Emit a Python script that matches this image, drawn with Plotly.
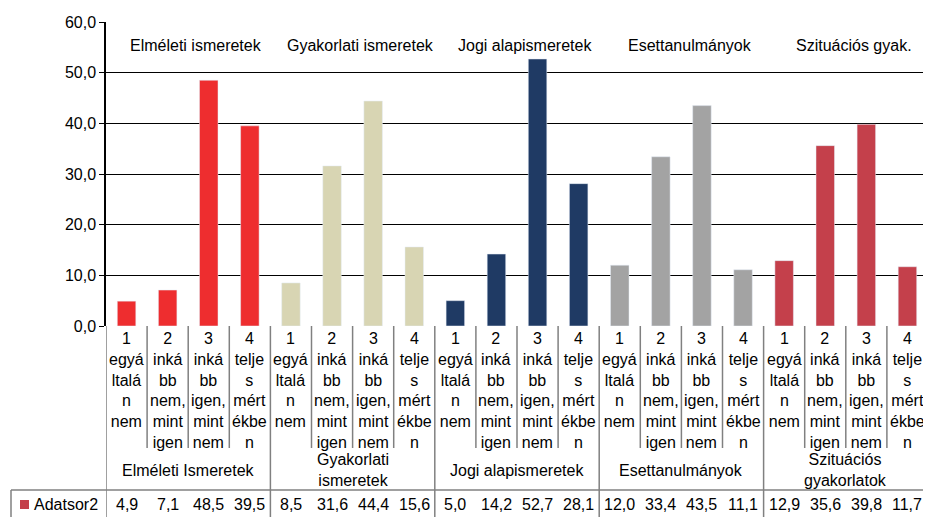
import plotly.graph_objects as go

groups = ["Elméleti Ismeretek", "Gyakorlati<br>ismeretek", "Jogi alapismeretek",
          "Esettanulmányok", "Szituációs<br>gyakorlatok"]
headers = ["Elméleti ismeretek", "Gyakorlati ismeretek", "Jogi alapismeretek",
           "Esettanulmányok", "Szituációs gyak."]
sub_labels = ["1<br>egyá<br>ltalá<br>n<br>nem", "2<br>inká<br>bb<br>nem,<br>mint<br>igen",
              "3<br>inká<br>bb<br>igen,<br>mint<br>nem", "4<br>telje<br>s<br>mért<br>ékbe<br>n"]
values = [4.9, 7.1, 48.5, 39.5, 8.5, 31.6, 44.4, 15.6, 5.0, 14.2, 52.7, 28.1,
          12.0, 33.4, 43.5, 11.1, 12.9, 35.6, 39.8, 11.7]
group_colors = ["#EE2D2F", "#D8D5B3", "#1F3A64", "#A3A3A3", "#C4404B"]
series_name = "Adatsor2"

W, H = 931, 517
L, R, T, B = 98, 11, 14, 199
pw, ph = W - L - R, H - T - B

def py(p):  # pixel y -> paper y
    return (H - B - p) / ph

def px_(p):
    return (p - L) / pw

xs = list(range(len(values)))
colors = [group_colors[i // 4] for i in xs]
font = "Liberation Sans, Arial, sans-serif"
fs = 16

fig = go.Figure(go.Bar(x=xs, y=values, marker_color=colors, width=0.45))

ann, shp = [], []
line = dict(color="#808080", width=1.5)
for i, v in enumerate(values):
    ann.append(dict(x=i, y=py(320), xref="x", yref="paper", text=sub_labels[i % 4],
                    showarrow=False, yanchor="top", font=dict(size=fs, color="black")))
    ann.append(dict(x=i, y=py(497), xref="x", yref="paper", text=f"{v:.1f}".replace(".", ","),
                    showarrow=False, yanchor="middle", font=dict(size=fs, color="black")))
    if i % 4 != 0:
        shp.append(dict(type="line", xref="x", yref="paper", x0=i - 0.5, x1=i - 0.5,
                        y0=py(318), y1=py(440), line=line))
for g in range(5):
    ann.append(dict(x=g * 4 + 1.5, y=py(462), xref="x", yref="paper", text=groups[g],
                    showarrow=False, yanchor="middle", font=dict(size=fs, color="black")))
    ann.append(dict(x=g * 4 + 1.7, y=py(37), xref="x", yref="paper", text=headers[g],
                    showarrow=False, yanchor="middle", font=dict(size=fs, color="black")))
for b in range(6):
    shp.append(dict(type="line", xref="x", yref="paper", x0=b * 4 - 0.5, x1=b * 4 - 0.5,
                    y0=py(318), y1=py(510), line=line))
for p in (482, 510):
    shp.append(dict(type="line", xref="paper", yref="paper", x0=px_(3), x1=1,
                    y0=py(p), y1=py(p), line=line))
shp.append(dict(type="line", xref="paper", yref="paper", x0=px_(3), x1=px_(3),
                y0=py(482), y1=py(510), line=line))
shp.append(dict(type="rect", xref="paper", yref="paper", x0=px_(12), x1=px_(21),
                y0=py(501), y1=py(492), fillcolor="#C4404B", line=dict(width=0)))
ann.append(dict(x=px_(24), y=py(497), xref="paper", yref="paper", text=series_name,
                showarrow=False, xanchor="left", yanchor="middle", font=dict(size=fs, color="black")))

fig.update_layout(
    width=W, height=H, margin=dict(l=L, r=R, t=T, b=B, autoexpand=False),
    paper_bgcolor="white", plot_bgcolor="white", showlegend=False,
    font=dict(family=font, size=fs, color="black"), separators=", ",
    annotations=ann, shapes=shp,
    xaxis=dict(range=[-0.5, 19.5], showticklabels=False, showgrid=False, zeroline=False,
               showline=False, automargin=False),
    yaxis=dict(range=[0, 60], dtick=10, tickformat=".1f", showgrid=True, gridcolor="black",
               gridwidth=1, zeroline=False, showline=True, linecolor="black", linewidth=1.5,
               ticks="outside", ticklen=5, tickcolor="black", tickfont=dict(size=fs),
               automargin=False),
)
fig.write_html("out.html")
